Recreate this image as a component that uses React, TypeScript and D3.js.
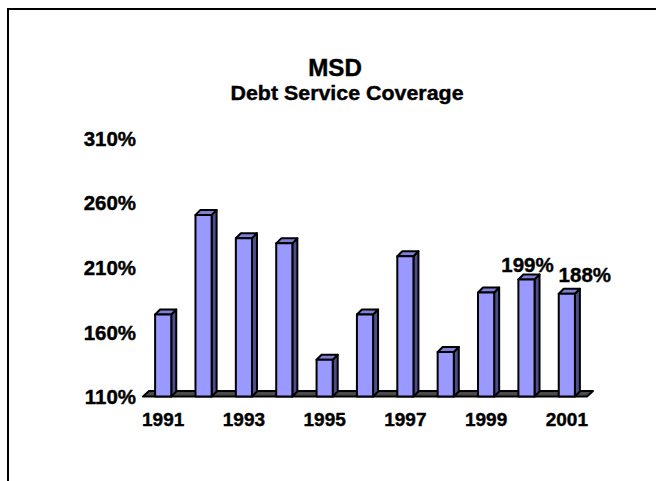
import * as d3 from 'd3';

const years = ['1991', '1992', '1993', '1994', '1995', '1996', '1997', '1998', '1999', '2000', '2001'];
const coverage = [172, 249, 231, 227, 137, 172, 217, 143, 189, 199, 188];
const yTicks = [110, 160, 210, 260, 310];
const labeledYears = ['2000', '2001'];

const W = 656;
const H = 481;
const FONT = 'Arial, "Liberation Sans", Helvetica, sans-serif';

// 3d offsets for the columns and floor
const DX = 5;
const DY = -5;

// nudges for the value labels so they don't collide (dx, dy from bar top centre)
const LABEL_NUDGE: Record<string, [number, number]> = {
  '2000': [1, -8],
  '2001': [18, -12],
};

function SText({
  x,
  y,
  sx,
  size,
  anchor = 'middle',
  children,
}: {
  x: number;
  y: number;
  sx: number;
  size: number;
  anchor?: string;
  children: any;
}) {
  return (
    <text
      transform={`translate(${x},${y}) scale(${sx},1)`}
      textAnchor={anchor}
      fontFamily={FONT}
      fontWeight="bold"
      fontSize={size}
      fill="#000"
      stroke="#000"
      strokeWidth={0.4}
    >
      {children}
    </text>
  );
}

export default function App() {
  const x = d3.scaleBand<string>().domain(years).range([143, 587]).paddingInner(0.6).paddingOuter(0.3);
  const y = d3.scaleLinear().domain([110, 310]).range([394.7, 136]);

  const bw = x.bandwidth();
  const floorFront = y(110) + 1.8;
  const floorL = 143;
  const floorR = 587;

  return (
    <svg
      width={W}
      height={H}
      viewBox={`0 0 ${W} ${H}`}
      style={{ position: 'absolute', left: 0, top: 0, background: '#fff' }}
    >
      {/* chart border, runs off the right and bottom */}
      <path d={`M8,${H + 10} V9 H${W + 10}`} fill="none" stroke="#000" strokeWidth={2} />

      <SText x={335} y={76} sx={1.05} size={23}>MSD</SText>
      <SText x={347} y={100} sx={1.07} size={20}>Debt Service Coverage</SText>

      {yTicks.map((t) => (
        <SText key={t} x={136} y={y(t) + 9.5} sx={1.05} size={19.5} anchor="end">
          {`${t}%`}
        </SText>
      ))}

      {/* floor */}
      <path
        d={`M${floorL},${floorFront} L${floorR},${floorFront} L${floorR + 6},${floorFront - 5.5} L${floorL + 6},${floorFront - 5.5} Z`}
        fill="#4a4a4a"
        stroke="#000"
        strokeWidth={2}
        strokeLinejoin="round"
      />

      {years.map((yr, i) => {
        const x0 = x(yr) ?? 0;
        const x1 = x0 + bw;
        const top = y(coverage[i]);
        const bot = floorFront;
        return (
          <g key={yr} stroke="#000" strokeWidth={2} strokeLinejoin="round">
            <path
              d={`M${x1},${bot} L${x1 + DX},${bot + DY} L${x1 + DX},${top + DY} L${x1},${top} Z`}
              fill="#4d4d8a"
            />
            <path
              d={`M${x0},${top} L${x0 + DX},${top + DY} L${x1 + DX},${top + DY} L${x1},${top} Z`}
              fill="#8080d8"
            />
            <rect x={x0} y={top} width={bw} height={bot - top} fill="#9999ff" />
          </g>
        );
      })}

      {years
        .filter((_, i) => i % 2 === 0)
        .map((yr) => (
          <SText key={yr} x={(x(yr) ?? 0) + bw / 2} y={426} sx={1.0} size={19}>
            {yr}
          </SText>
        ))}

      {labeledYears.map((yr) => {
        const i = years.indexOf(yr);
        const [ndx, ndy] = LABEL_NUDGE[yr] ?? [0, -9];
        return (
          <SText key={yr} x={(x(yr) ?? 0) + bw / 2 + ndx} y={y(coverage[i]) + ndy} sx={1.0} size={20.5}>
            {`${coverage[i]}%`}
          </SText>
        );
      })}
    </svg>
  );
}
